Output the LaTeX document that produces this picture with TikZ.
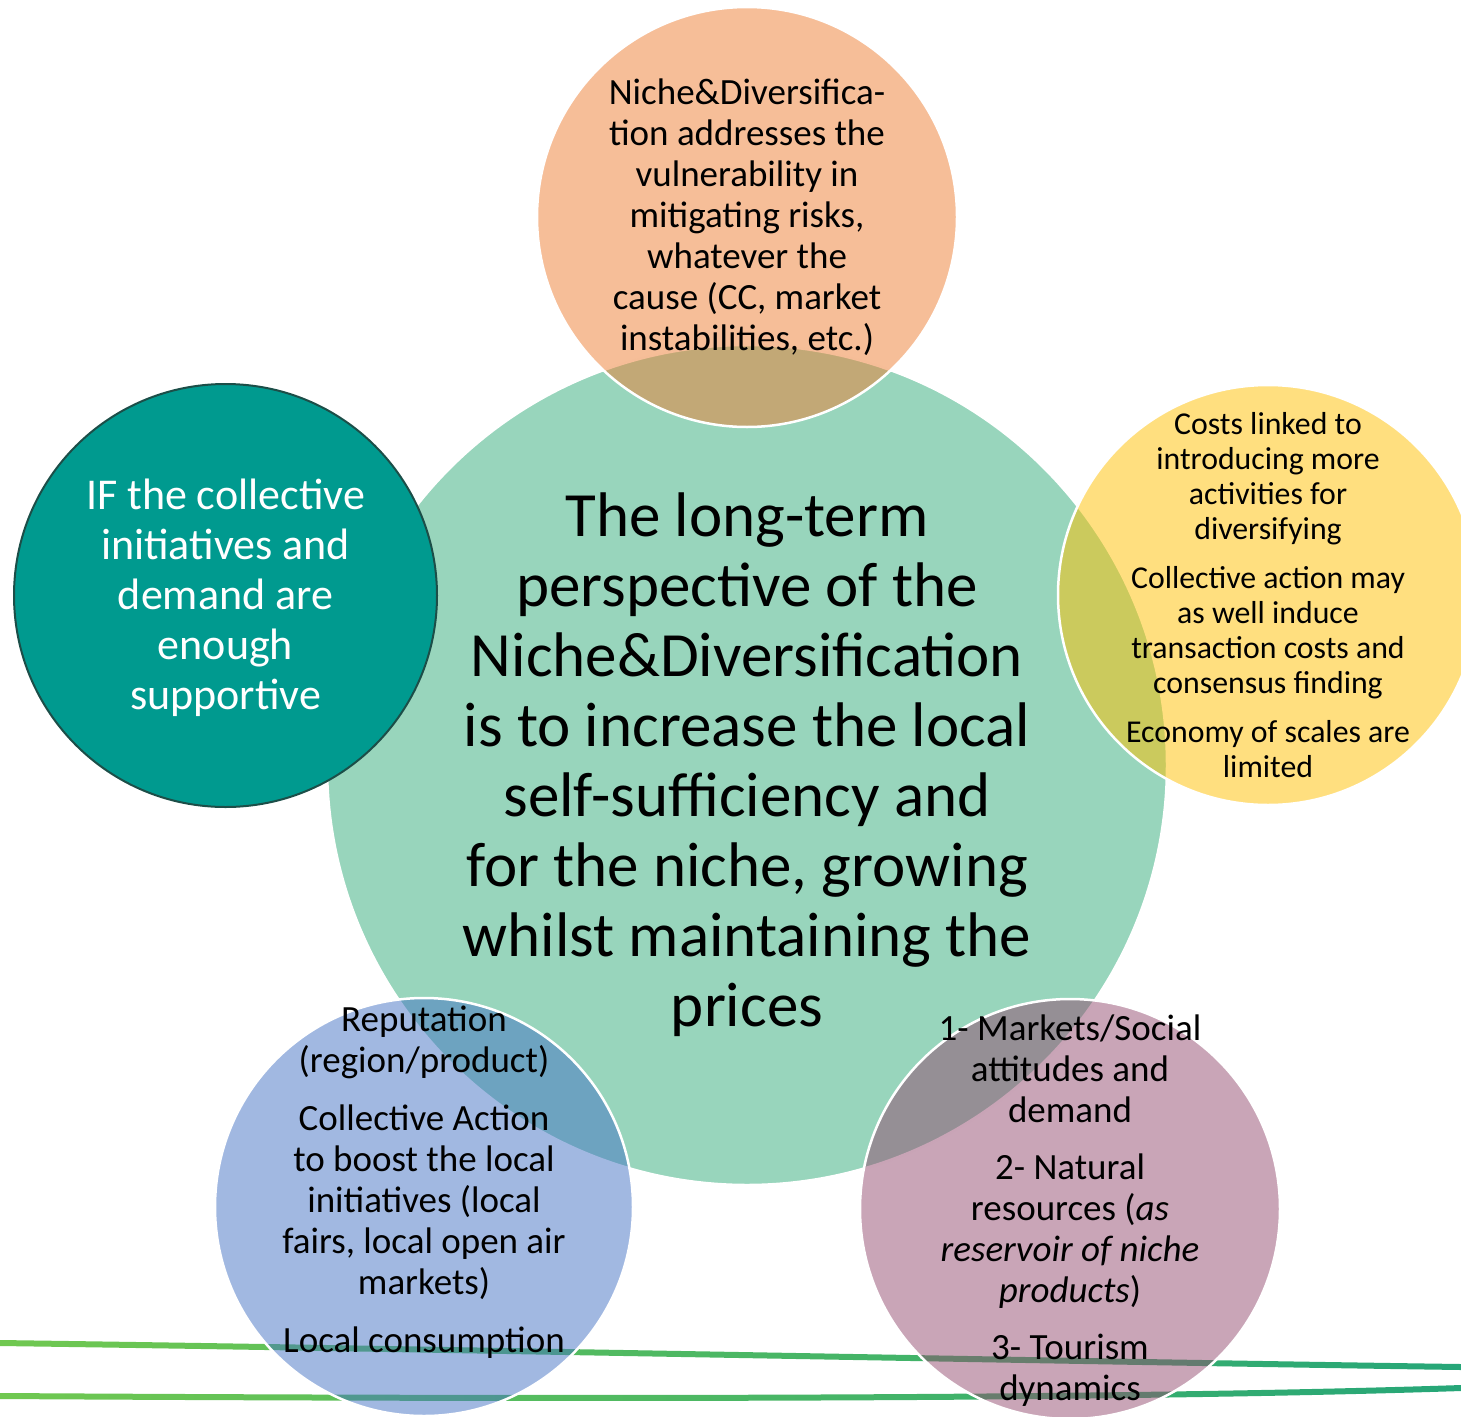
\documentclass[tikz,border=0pt]{standalone}
\usepackage{fontspec}
\setmainfont{Carlito}
\usepackage{xcolor}
\usepackage{tikz}

\definecolor{coregreen}{RGB}{152,213,188}
\definecolor{nicheorange}{RGB}{237,125,49}
\definecolor{costgold}{RGB}{255,192,0}
\definecolor{localblue}{RGB}{68,114,196}
\definecolor{drivermauve}{RGB}{147,75,111}
\definecolor{ifteal}{RGB}{0,154,143}
\definecolor{ifedge}{RGB}{28,78,72}
\definecolor{lineleft}{RGB}{112,200,80}
\definecolor{lineright}{RGB}{38,166,120}

\begin{document}
\begin{tikzpicture}[
  x=1pt, y=-1pt,
  bubble/.style={circle, minimum size=420pt, inner sep=0pt, draw=white, line width=2.5pt, fill opacity=0.5},
  btext/.style={align=center, inner sep=0pt, font=\fontsize{37}{41}\selectfont}
]
\useasboundingbox (0,0) rectangle (1461,1416);
% two thin swooping lines at the bottom (band shaded left to right)
\foreach \ya/\yb/\yc/\yd in {1343/1350/1362/1367, 1396/1399/1400/1388}{
  \shade[left color=lineleft, right color=lineright]
    (0,\ya-3) .. controls (500,\yb-3) and (1100,\yc-3) .. (1461,\yd-3)
    -- (1461,\yd+3) .. controls (1100,\yc+3) and (500,\yb+3) .. (0,\ya+3) -- cycle;
}
% central circle and the satellites
\node[circle, minimum size=840pt, inner sep=0pt, fill=coregreen, draw=white, line width=2.5pt] (core) at (747,765) {};
\node[bubble, fill=nicheorange] (niche) at (747,217) {};
\node[bubble, fill=costgold] (costs) at (1268,595) {};
\node[bubble, fill=localblue, minimum size=418pt] (local) at (424,1207) {};
\node[bubble, fill=drivermauve] (drivers) at (1070,1209) {};
\node[circle, minimum size=423pt, inner sep=0pt, fill=ifteal, draw=ifedge, line width=2pt] (cond) at (225.5,595.5) {};
% texts
\node[align=center, inner sep=0pt, font=\fontsize{63}{70}\selectfont] (core-txt) at (core)
  {The long-term\\perspective of the\\Niche\&Diversification\\is to increase the local\\self-sufficiency and\\for the niche, growing\\whilst maintaining the\\prices};
\node[btext] (niche-txt) at (niche)
  {Niche\&Diversifica-\\tion addresses the\\vulnerability in\\mitigating risks,\\whatever the\\cause (CC, market\\instabilities, etc.)};
\node[btext, font=\fontsize{31.8}{35}\selectfont] (costs-txt) at (costs)
  {Costs linked to\\introducing more\\activities for\\diversifying\\[14pt]Collective action may\\as well induce\\transaction costs and\\consensus finding\\[14pt]Economy of scales are\\limited};
\node[btext, text=white, font=\fontsize{44}{50}\selectfont] (cond-txt) at ([yshift=-2pt]cond.center)
  {IF the collective\\initiatives and\\demand are\\enough\\supportive};
\node[btext] (local-txt) at ([yshift=25pt]local.center)
  {Reputation\\(region/product)\\[17pt]Collective Action\\to boost the local\\initiatives (local\\fairs, local open air\\markets)\\[17pt]Local consumption};
\node[btext] (drivers-txt) at ([yshift=-2pt]drivers.center)
  {1- Markets/Social\\attitudes and\\demand\\[16pt]2- Natural\\resources (\textit{as}\\\textit{reservoir of niche}\\\textit{products})\\[16pt]3- Tourism\\dynamics};
\end{tikzpicture}
\end{document}
